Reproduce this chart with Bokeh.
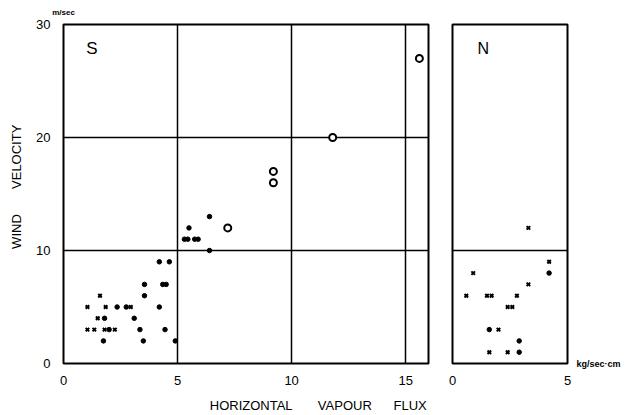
from bokeh.plotting import figure
from bokeh.layouts import row
from bokeh.models import FixedTicker, Label, LinearAxis
from bokeh.embed import file_html
from bokeh.resources import INLINE

# ---- data ----
s_dot_x = [4.2, 4.64, 3.55, 4.35, 4.5, 3.55, 2.35, 2.75, 4.2, 1.8, 3.1, 2.0, 3.35, 4.45, 1.75, 3.5, 4.9,
           5.3, 5.45, 5.75, 5.9, 5.5, 6.4, 6.4]
s_dot_y = [9, 9, 7, 7, 7, 6, 5, 5, 5, 4, 4, 3, 3, 3, 2, 2, 2,
           11, 11, 11, 11, 12, 13, 10]
s_cross_x = [1.6, 1.05, 1.85, 2.95, 1.5, 1.05, 1.35, 1.8, 2.25]
s_cross_y = [6, 5, 5, 5, 4, 3, 3, 3, 3]
s_ring_x = [7.2, 9.2, 9.2, 11.8, 15.6]
s_ring_y = [12, 17, 16, 20, 27]

n_dot_x = [1.6, 2.9, 2.9, 4.2]
n_dot_y = [3, 2, 1, 8]
n_cross_x = [3.3, 0.9, 4.2, 3.3, 0.6, 1.5, 1.7, 2.8, 2.4, 2.6, 2.0, 1.6, 2.4]
n_cross_y = [12, 8, 9, 7, 6, 6, 6, 6, 5, 5, 3, 1, 1]

y_ticks = [0, 10, 20, 30]
s_x_ticks = [0, 5, 10, 15]
n_x_ticks = [0, 5]
s_xgrid = [5, 10, 15]
s_ygrid = [10, 20]
n_ygrid = [10]

FONT = "Liberation Sans"
NB = "\u00a0"
X_TITLE = NB * 40 + "HORIZONTAL" + NB * 7 + "VAPOUR" + NB * 6 + "FLUX"
Y_TITLE = NB * 4 + "WIND" + NB * 7 + "VELOCITY"


def style(p):
    p.outline_line_color = "black"
    p.outline_line_width = 2
    p.background_fill_color = "white"
    p.border_fill_color = "white"
    for ax in p.axis:
        ax.axis_line_color = None
        ax.major_tick_line_color = None
        ax.minor_tick_line_color = None
        ax.major_label_text_font = FONT
        ax.major_label_text_font_size = "13px"
        ax.major_label_text_color = "black"
        ax.axis_label_text_font = FONT
        ax.axis_label_text_font_style = "normal"
        ax.axis_label_text_font_size = "13px"
        ax.axis_label_text_color = "black"
    for g in p.grid:
        g.grid_line_color = "black"
        g.grid_line_width = 1.5
        g.grid_line_alpha = 1.0


# ---------------- S panel ----------------
p1 = figure(width=440, height=415, x_range=(0, 16), y_range=(0, 30),
            min_border_left=63, min_border_right=12, min_border_top=24, min_border_bottom=51,
            output_backend="svg", toolbar_location=None)
bottom_ax = p1.below[0]
left_ax = p1.left[0]
bottom_ax.ticker = FixedTicker(ticks=s_x_ticks)
left_ax.ticker = FixedTicker(ticks=y_ticks)
p1.xgrid.ticker = FixedTicker(ticks=s_xgrid)
p1.ygrid.ticker = FixedTicker(ticks=s_ygrid)

unit_y = LinearAxis(ticker=FixedTicker(ticks=[0]), major_label_overrides={0: "m/sec"})
p1.add_layout(unit_y, "above")

style(p1)
bottom_ax.major_label_standoff = 6
bottom_ax.axis_label = X_TITLE
bottom_ax.axis_label_standoff = 10
left_ax.major_label_standoff = 7
left_ax.axis_label = Y_TITLE
left_ax.axis_label_standoff = 9

unit_y.major_label_text_font_size = "8px"
unit_y.major_label_text_font_style = "bold"
unit_y.major_label_standoff = 2

p1.scatter(s_dot_x, s_dot_y, marker="circle", size=4.5, color="black")
p1.scatter(s_cross_x, s_cross_y, marker="x", size=5, line_color="black", line_width=2)
p1.scatter(s_ring_x, s_ring_y, marker="circle", size=7, line_color="black", line_width=2,
           fill_color="white")

p1.add_layout(Label(x=1.0, y=27, text="S", text_font=FONT, text_font_size="17px",
                    text_color="black"))

# ---------------- N panel ----------------
p2 = figure(width=185, height=415, x_range=(0, 5), y_range=(0, 30),
            min_border_left=12, min_border_right=58, min_border_top=24, min_border_bottom=51,
            output_backend="svg", toolbar_location=None)
n_bottom = p2.below[0]
n_bottom.ticker = FixedTicker(ticks=n_x_ticks)
p2.yaxis.visible = False
p2.xgrid.visible = False
p2.ygrid.ticker = FixedTicker(ticks=n_ygrid)

unit_x = LinearAxis(ticker=FixedTicker(ticks=[0]), major_label_overrides={0: "kg/sec\u00b7cm"})
p2.add_layout(unit_x, "right")

style(p2)
n_bottom.major_label_standoff = 6
unit_x.major_label_text_font_size = "9px"
unit_x.major_label_text_font_style = "bold"
unit_x.major_label_standoff = 3

p2.scatter(n_dot_x, n_dot_y, marker="circle", size=4.5, color="black")
p2.scatter(n_cross_x, n_cross_y, marker="x", size=5, line_color="black", line_width=2)

p2.add_layout(Label(x=1.09, y=27.1, text="N", text_font=FONT, text_font_size="16px",
                    text_color="black"))

layout = row(p1, p2)
open("out.html", "w").write(file_html(layout, INLINE))
